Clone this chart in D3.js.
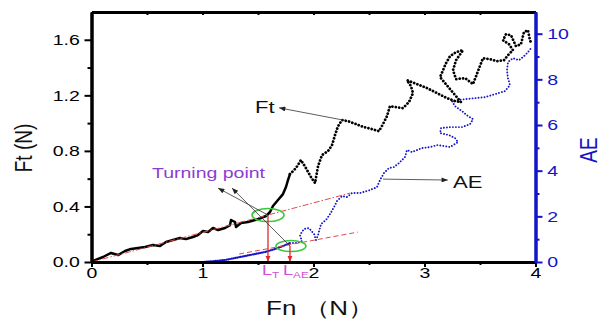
<!DOCTYPE html>
<html><head><meta charset="utf-8">
<script src="https://cdn.jsdelivr.net/npm/d3@7"></script>
<style>
html,body{margin:0;padding:0;background:#fff;}
svg{display:block;font-family:"Liberation Sans",Arial,sans-serif;}
</style></head><body>
<svg id="c" width="614" height="322"></svg>
<script>
// ---- data ----
const ftFn  = [0,0.032,0.104,0.176,0.239,0.302,0.356,0.419,0.482,0.554,0.617,0.671,0.734,0.797,0.851,0.914,0.959,1.005,1.050,1.095,1.140,1.203,1.248,1.257,1.293,1.302,1.347,1.410,1.473,1.527,1.572,1.608,1.635,1.680,1.725,1.752,1.770,1.788,
  1.842,1.887,1.932,1.977,2.014,2.041,2.077,2.131,2.167,2.194,2.221,2.257,2.311,2.383,2.455,2.527,2.590,2.626,2.662,2.689,2.743,2.806,2.860,2.896,2.878,2.842,2.932,3.023,3.113,3.203,3.275,3.329,3.140,3.194,3.230,3.284,3.347,3.284,3.257,3.284,3.365,3.437,3.527,3.590,3.653,3.716,3.752,3.797,3.761,3.707,3.734,3.779,3.824,3.869,3.896,3.932,3.950,3.968];
const ftVal = [0,0.014,0.036,0.065,0.050,0.079,0.094,0.101,0.108,0.122,0.115,0.144,0.158,0.173,0.165,0.180,0.194,0.223,0.216,0.245,0.230,0.245,0.266,0.302,0.288,0.252,0.281,0.288,0.302,0.317,0.331,0.360,0.403,0.446,0.489,0.540,0.590,0.633,
  0.676,0.734,0.676,0.612,0.568,0.691,0.770,0.799,0.842,0.914,0.978,1.022,1.014,0.993,0.971,0.957,0.942,0.993,1.050,1.122,1.115,1.108,1.151,1.216,1.266,1.309,1.281,1.252,1.216,1.180,1.158,1.151,1.331,1.432,1.482,1.511,1.525,1.453,1.381,1.317,1.324,1.281,1.468,1.460,1.446,1.453,1.489,1.525,1.568,1.597,1.640,1.633,1.554,1.568,1.655,1.669,1.597,1.568];
const aeFn  = [1.005,1.113,1.203,1.293,1.383,1.473,1.563,1.653,1.725,1.788,1.851,1.896,1.878,1.914,1.959,2.005,2.023,2.041,2.068,2.113,2.149,2.185,2.212,2.257,2.302,2.347,2.419,2.509,2.572,2.599,2.635,2.680,2.725,2.770,2.824,2.842,2.887,2.932,2.977,3.050,3.113,3.176,3.230,3.302,3.275,3.221,3.140,3.149,3.230,3.338,3.410,3.437,3.392,3.338,3.275,3.248,3.302,3.365,3.455,3.545,3.635,3.725,3.770,3.752,3.743,3.752,3.797,3.851,3.896,3.932,3.959];
const aeVal = [0,0.044,0.088,0.175,0.263,0.350,0.438,0.569,0.700,0.832,0.832,0.919,1.182,1.444,1.488,1.225,0.963,1.182,1.663,1.838,2.101,2.407,2.670,2.888,2.845,3.020,3.020,3.151,3.282,3.589,3.895,4.114,4.158,4.333,4.595,4.902,4.814,4.902,4.989,5.033,5.120,5.077,5.033,5.252,5.427,5.558,5.646,5.864,5.908,5.908,6.039,6.258,6.389,6.608,6.827,7.046,7.090,7.133,7.177,7.221,7.352,7.484,7.746,8.053,8.403,8.753,8.928,8.840,9.015,9.190,9.365];
const xTicks  = [0,1,2,3,4], xMinor = [0.5,1.5,2.5,3.5];
const ftTicks = [0,0.4,0.8,1.2,1.6], ftMinor = [0.2,0.6,1.0,1.4];
const aeTicks = [0,2,4,6,8,10], aeMinor = [1,3,5,7,9];
const ftFitFn = [0,2.33], ftFitVal = [0,0.496];
const aeFitFn = [1.33,2.4], aeFitVal = [0.35,1.31];
const turnFn = [1.59,1.788];
const turnFt = 0.338, turnAE = 0.70;
const tpArrowEndFn = [1.14,1.266], tpArrowEndFt = [0.532,0.532];
const ftLabelArrow = {fromFn:2.28, fromFt:1.02, toFn:1.69, toFt:1.11};
const aeLabelArrow = {fromFn:2.626, fromAE:3.63, toFn:3.21, toAE:3.59};
const denseUntil = 1.79; // stick phase drawn as a solid dense trace

// ---- scales ----
const svg = d3.select("#c");
const L = 91.5, R = 535.5, T = 12, B = 262;
const x = d3.scaleLinear().domain([0,4]).range([L,R]);
const yF = d3.scaleLinear().domain([0,1.8]).range([B,T]);
const yA = d3.scaleLinear().domain([0,10.95]).range([B,T]);
const SX = 1.3;
const BLUE = "#1414c8";

const defs = svg.append("defs");
function marker(id, color, w, h){
  defs.append("marker").attr("id",id).attr("viewBox","0 0 10 8").attr("refX",10).attr("refY",4)
    .attr("markerUnits","userSpaceOnUse").attr("markerWidth",w).attr("markerHeight",h).attr("orient","auto")
    .append("path").attr("d","M0,0 L10,4 L0,8 Z").attr("fill",color);
}
marker("ab","#222",8,5);
marker("ar","#e02828",6,6);

function txt(px,py,str,size,color,anchor,rot){
  return svg.append("text")
    .attr("transform",`translate(${px},${py}) scale(${SX},1)` + (rot?` rotate(${rot})`:""))
    .attr("font-size",size).attr("fill",color).attr("text-anchor",anchor||"start").text(str);
}

// ---- data series ----
const ftPts = d3.zip(ftFn,ftVal);
const aePts = d3.zip(aeFn,aeVal);
const lineF = d3.line().x(d=>x(d[0])).y(d=>yF(d[1]));
const lineA = d3.line().x(d=>x(d[0])).y(d=>yA(d[1]));
const splitF = ftFn.findIndex(v=>v>denseUntil);
const splitA = aeFn.findIndex(v=>v>denseUntil);

svg.append("path").datum(aePts.slice(0,splitA))
  .attr("d",lineA).attr("stroke",BLUE).attr("stroke-width",2.2).attr("stroke-linecap","round")
  .attr("stroke-dasharray","0.01,1.8").attr("fill","none");
svg.append("path").datum(aePts.slice(splitA-1))
  .attr("d",lineA).attr("stroke",BLUE).attr("stroke-width",1.9).attr("stroke-linecap","round")
  .attr("stroke-dasharray","0.01,3").attr("fill","none");
svg.append("path").datum(ftPts.slice(0,splitF))
  .attr("d",lineF).attr("stroke","#000").attr("stroke-width",2.5).attr("fill","none").attr("stroke-linejoin","round");
svg.append("path").datum(ftPts.slice(splitF-1))
  .attr("d",lineF).attr("stroke","#000").attr("stroke-width",2.8).attr("stroke-linecap","round")
  .attr("stroke-dasharray","0.01,3.4").attr("fill","none");

// ---- fit lines (over the data) ----
svg.append("path").datum(d3.zip(ftFitFn,ftFitVal)).attr("d",lineF)
  .attr("stroke","#e04a4a").attr("stroke-width",1).attr("stroke-dasharray","6,2,1.5,2").attr("fill","none");
svg.append("path").datum(d3.zip(aeFitFn,aeFitVal)).attr("d",lineA)
  .attr("stroke","#e04a4a").attr("stroke-width",1).attr("stroke-dasharray","5,3").attr("fill","none");

// ---- turning point annotations ----
const tpx = [x(turnFn[0]), x(turnFn[1])];
const tpy = [yF(turnFt), yA(turnAE)];
svg.append("ellipse").attr("cx",tpx[0]).attr("cy",tpy[0]).attr("rx",16).attr("ry",6.5)
  .attr("fill","none").attr("stroke","#3cc83c").attr("stroke-width",1.6);
svg.append("ellipse").attr("cx",tpx[1]+1).attr("cy",tpy[1]).attr("rx",15).attr("ry",5.5)
  .attr("fill","none").attr("stroke","#3cc83c").attr("stroke-width",1.6);
[0,1].forEach(i=>{
  svg.append("line").attr("x1",tpx[i]).attr("y1",tpy[i]).attr("x2",tpx[i]).attr("y2",B)
    .attr("stroke","#e02828").attr("stroke-width",1.3).attr("marker-end","url(#ar)");
  svg.append("line").attr("x1",tpx[i]).attr("y1",tpy[i])
    .attr("x2",x(tpArrowEndFn[i])).attr("y2",yF(tpArrowEndFt[i]))
    .attr("stroke","#333").attr("stroke-width",0.8).attr("marker-end","url(#ab)");
});
svg.append("line").attr("x1",x(ftLabelArrow.fromFn)).attr("y1",yF(ftLabelArrow.fromFt))
  .attr("x2",x(ftLabelArrow.toFn)).attr("y2",yF(ftLabelArrow.toFt))
  .attr("stroke","#333").attr("stroke-width",0.8).attr("marker-end","url(#ab)");
svg.append("line").attr("x1",x(aeLabelArrow.fromFn)).attr("y1",yA(aeLabelArrow.fromAE))
  .attr("x2",x(aeLabelArrow.toFn)).attr("y2",yA(aeLabelArrow.toAE))
  .attr("stroke","#333").attr("stroke-width",0.8).attr("marker-end","url(#ab)");

txt(152,178,"Turning point",15,"#8c3cd2");
txt(255,113,"Ft",17,"#111");
txt(453,188,"AE",17,"#111");

const lt = txt(262,275,"",14,"#d24fd8");
lt.append("tspan").text("L");
lt.append("tspan").attr("font-size",9).attr("dy",3).text("T");
const lae = txt(283,275,"",14,"#d24fd8");
lae.append("tspan").text("L");
lae.append("tspan").attr("font-size",9).attr("dy",3).text("AE");

// ---- axes ----
function styleAxis(g, color, labelled){
  g.select(".domain").attr("stroke",color).attr("stroke-width",3);
  g.selectAll(".tick line").attr("stroke",color).attr("stroke-width",2);
  if(labelled) g.selectAll(".tick text").attr("fill",color).attr("font-size",15)
      .attr("font-family","Liberation Sans, Arial, sans-serif")
      .attr("transform",`scale(${SX},1)`);
  else g.selectAll(".tick text").remove();
}
svg.append("g").attr("transform",`translate(0,${T})`)
  .call(d3.axisBottom(x).tickValues(xTicks.concat(xMinor)).tickSize(3).tickSizeOuter(0).tickFormat(""))
  .call(g=>styleAxis(g,"#000",false));
svg.append("g").attr("transform",`translate(0,${B})`)
  .call(d3.axisBottom(x).tickValues(xMinor).tickSize(3).tickSizeOuter(0).tickFormat(""))
  .call(g=>styleAxis(g,"#000",false));
svg.append("g").attr("transform",`translate(0,${B})`)
  .call(d3.axisBottom(x).tickValues(xTicks).tickSize(5).tickSizeOuter(0).tickPadding(0).tickFormat(d3.format("d")))
  .call(g=>styleAxis(g,"#000",true));
svg.append("g").attr("transform",`translate(${L},0)`)
  .call(d3.axisLeft(yF).tickValues(ftMinor).tickSize(4).tickSizeOuter(0).tickFormat(""))
  .call(g=>styleAxis(g,"#000",false));
svg.append("g").attr("transform",`translate(${L},0)`)
  .call(d3.axisLeft(yF).tickValues(ftTicks).tickSize(7).tickSizeOuter(0).tickPadding(2).tickFormat(d3.format(".1f")))
  .call(g=>styleAxis(g,"#000",true));
svg.append("g").attr("transform",`translate(${R},0)`)
  .call(d3.axisRight(yA).tickValues(aeMinor).tickSize(4).tickSizeOuter(0).tickFormat(""))
  .call(g=>styleAxis(g,BLUE,false));
svg.append("g").attr("transform",`translate(${R},0)`)
  .call(d3.axisRight(yA).tickValues(aeTicks).tickSize(7).tickSizeOuter(0).tickPadding(2).tickFormat(d3.format("d")))
  .call(g=>styleAxis(g,BLUE,true));

// ---- axis titles ----
txt(266,315,"Fn （N）",20,"#111","start");
txt(32,148,"Ft (N)",19,"#111","middle",-90);
txt(597,150,"AE",19,BLUE,"middle",-90);
</script>
</body></html>
